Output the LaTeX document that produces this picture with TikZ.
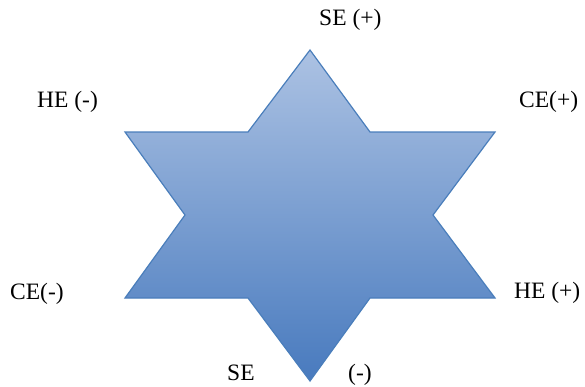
\documentclass[tikz,border=0pt]{standalone}
\usepackage{fontspec}
\setmainfont{Liberation Serif}
\definecolor{startop}{RGB}{172,194,227}
\definecolor{starbottom}{RGB}{72,122,190}
\definecolor{staredge}{RGB}{74,126,187}

\begin{document}
\begin{tikzpicture}[x=1pt,y=-1pt]
      \tikzset{Label/.style = {anchor=base west, inner sep=0pt,
          font=\fontsize{23.5}{28}\selectfont}}
      \useasboundingbox (0,0) rectangle (585,386);

      % Points of the star
      \coordinate (t)  at (310,50);
      \coordinate (tr) at (370,132);
      \coordinate (ur) at (495,132);
      \coordinate (mr) at (433,215);
      \coordinate (lr) at (495,298);
      \coordinate (br) at (370,298);
      \coordinate (b)  at (310,381);
      \coordinate (bl) at (248,298);
      \coordinate (ll) at (125,298);
      \coordinate (ml) at (185,215);
      \coordinate (ul) at (125,132);
      \coordinate (tl) at (248,132);

      % Star
      \shade[top color=startop, bottom color=starbottom, draw=staredge,
          line width=1.2pt, line join=miter]
          (t) -- (tr) -- (ur) -- (mr) -- (lr) -- (br) -- (b)
          -- (bl) -- (ll) -- (ml) -- (ul) -- (tl) -- cycle;

      % Labels
      \node[Label] (sep) at (319,25)  {SE (+)};
      \node[Label] (hem) at (37,107)  {HE (-)};
      \node[Label] (cep) at (519,107) {CE(+)};
      \node[Label] (cem) at (10,299)  {CE(-)};
      \node[Label] (hep) at (514,298) {HE (+)};
      \node[Label] (se)  at (227,380) {SE};
      \node[Label] (sem) at (348,380) {(-)};
\end{tikzpicture}
\end{document}
